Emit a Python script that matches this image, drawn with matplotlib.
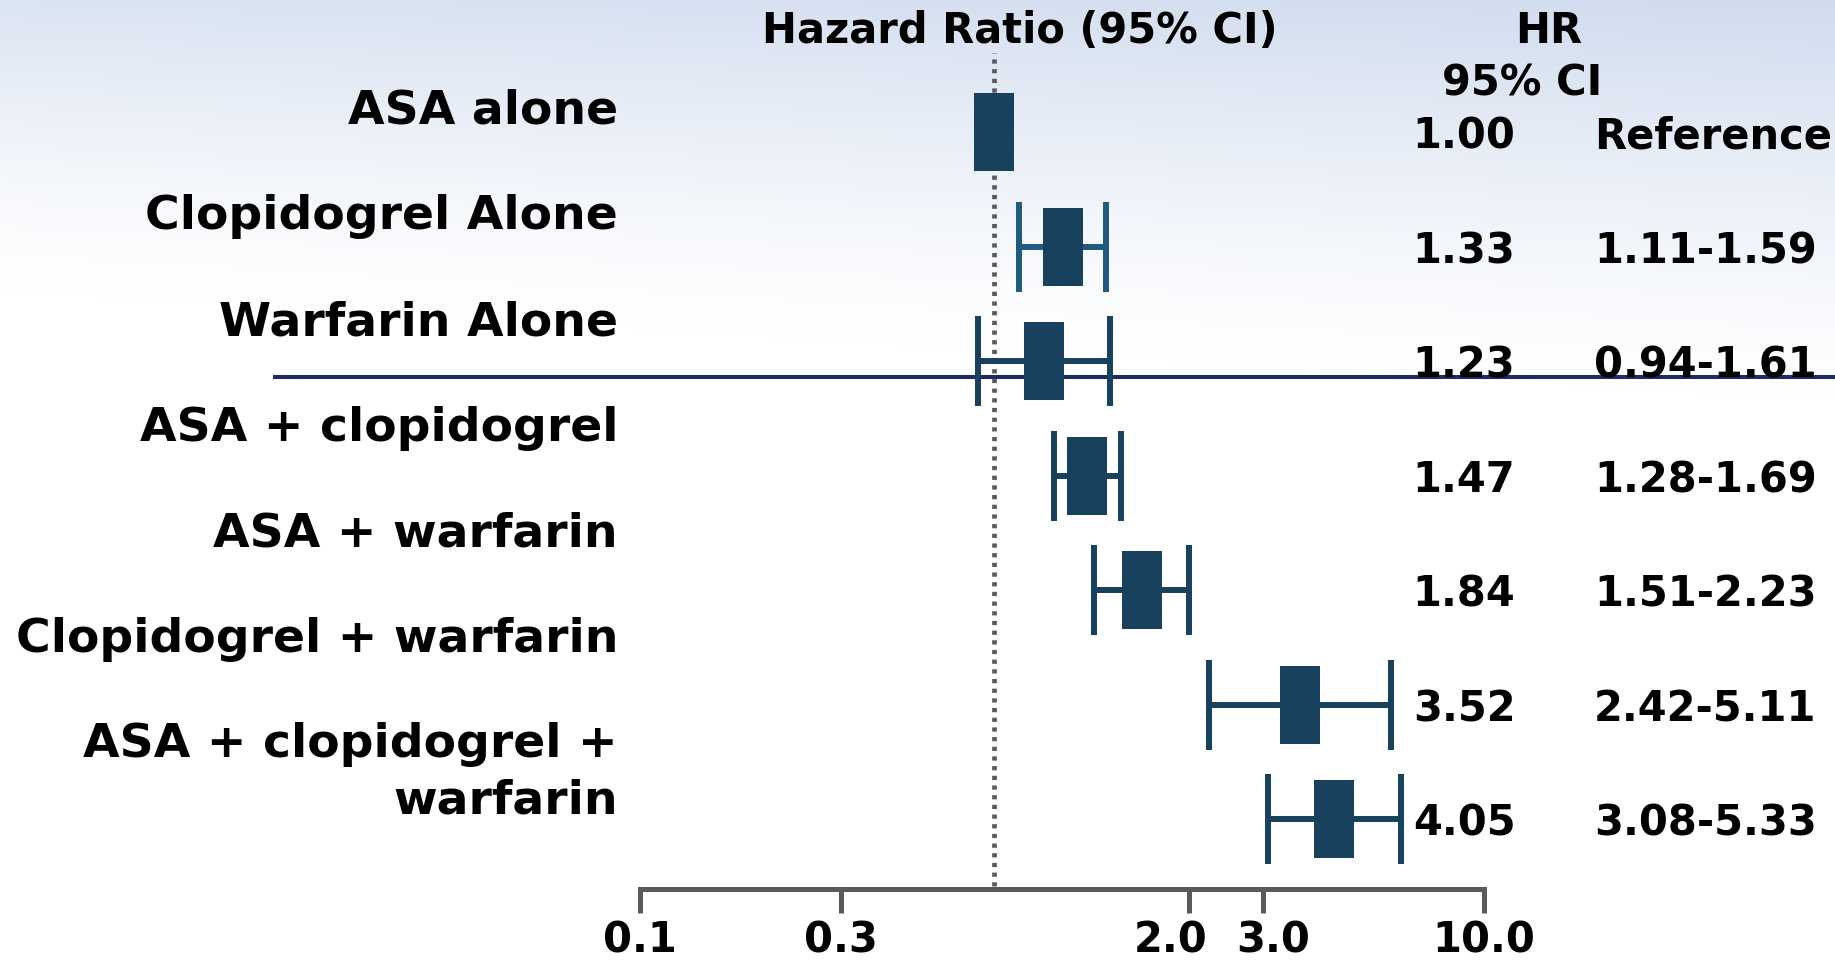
import numpy as np
import matplotlib.pyplot as plt
from matplotlib.path import Path
from matplotlib.ticker import NullLocator
from matplotlib.transforms import ScaledTranslation, blended_transform_factory

# bleeding risk by antithrombotic regimen: hazard ratios with 95% CI
regimens = ["ASA alone", "Clopidogrel Alone", "Warfarin Alone",
            "ASA + clopidogrel", "ASA + warfarin", "Clopidogrel + warfarin",
            "ASA + clopidogrel +\nwarfarin"]
hr = [1.00, 1.33, 1.23, 1.47, 1.84, 3.52, 4.05]
ci_low = [np.nan, 1.11, 0.94, 1.28, 1.51, 2.42, 3.08]
ci_high = [np.nan, 1.59, 1.61, 1.69, 2.23, 5.11, 5.33]
scale_ticks = [0.1, 0.3, 2.0, 3.0, 10.0]
scale_labels = ["0.1", "0.3", "2.0", "3.0", "10.0"]

W, H = 1835, 963
BOX = "#17415c"
ci_colors = [BOX, "#1f5a80", BOX, BOX, BOX, BOX, BOX]


def fx(px):
    return px / W


def fy(px):
    return 1 - px / H


fig = plt.figure(figsize=(W / 100, H / 100), dpi=100)

# pale blue wash fading to white above the divider
bg = fig.add_axes([0, 0, 1, 1], zorder=-1)
yy, xx = np.mgrid[0:H, 0:W]
fade_end = 290 + 110 * xx / W
t = np.clip(1 - yy / fade_end, 0, 1) ** 1.3
top_left = np.array([0.86, 0.895, 0.952])
top_right = np.array([0.815, 0.86, 0.935])
top = top_left + (top_right - top_left) * (xx / W)[..., None]
img = 1 - (1 - top) * t[..., None]
bg.imshow(img, aspect="auto", interpolation="bilinear")
bg.axis("off")

# forest plot axes: log hazard ratio across, one row per regimen down
ax = fig.add_axes([0, 0, 1, 1])
ax.set_facecolor("none")
ax.set_xscale("log")
x_one, px_dec = 993.5, 561
ax.set_xlim(10 ** (-x_one / px_dec), 10 ** ((W - x_one) / px_dec))
row_top, row_step = 132, 114.5
rows = np.arange(len(hr))
ax.set_ylim((H - row_top) / row_step, -row_top / row_step)
ax.axis("off")

ax.axvline(1.0, ymin=fy(886), ymax=fy(53), color="#5a5a5a", lw=3.4,
           linestyle=(0, (0.9, 1.15)), zorder=2)
ax.plot([fx(273), 1], [fy(377), fy(377)], transform=ax.transAxes,
        color="#1b2b68", lw=2.9, solid_capstyle="butt", zorder=1.5)

for i in rows:
    if np.isnan(ci_low[i]):
        continue
    ax.errorbar(hr[i], i, xerr=[[hr[i] - ci_low[i]], [ci_high[i] - hr[i]]],
                fmt="none", ecolor=ci_colors[i], elinewidth=4.3,
                capsize=32.4, capthick=4.3, zorder=3)

box = Path([(-0.5, -1), (0.5, -1), (0.5, 1), (-0.5, 1), (-0.5, -1)],
           closed=True)
ax.plot(hr, rows, linestyle="none", marker=box, markersize=56.2,
        markerfacecolor=BOX, markeredgewidth=0, zorder=4)

# row labels on the left; the wrapped one hangs from its first line
label_top, label_step = 106, 105.8
for i, name in enumerate(regimens):
    y_px = label_top + i * label_step
    if "\n" in name:
        ax.text(fx(618), fy(y_px - 18.7), name, transform=ax.transAxes,
                ha="right", va="top", fontsize=34, fontweight="bold",
                linespacing=1.34)
    else:
        ax.text(fx(618), fy(y_px), name, transform=ax.transAxes,
                ha="right", va="center_baseline", fontsize=34,
                fontweight="bold")

# value columns on the right
tr = blended_transform_factory(ax.transAxes, ax.transData)
for i in rows:
    ax.text(fx(1464), i, f"{hr[i]:.2f}", transform=tr, ha="center",
            va="center_baseline", fontsize=30, fontweight="bold")
    if np.isnan(ci_low[i]):
        ci_str = "Reference"
    else:
        ci_str = f"{ci_low[i]:.2f}-{ci_high[i]:.2f}"
    ax.text(fx(1594), i, ci_str, transform=tr, ha="left",
            va="center_baseline", fontsize=30, fontweight="bold")

ax.text(fx(1020), fy(43), "Hazard Ratio (95% CI)", transform=ax.transAxes,
        ha="center", va="baseline", fontsize=30, fontweight="bold")
ax.text(fx(1549), fy(43), "HR", transform=ax.transAxes,
        ha="center", va="baseline", fontsize=30, fontweight="bold")
ax.text(fx(1522), fy(95), "95% CI", transform=ax.transAxes,
        ha="center", va="baseline", fontsize=30, fontweight="bold")

# scale bar along the bottom
sx0, sx1, axis_y = 640, 1484, 889
sax = fig.add_axes([fx(sx0), fy(axis_y), (sx1 - sx0) / W, 0.001])
sax.set_facecolor("none")
sax.set_xscale("log")
sax.set_xlim(0.1, 10)
for side in ["top", "left", "right"]:
    sax.spines[side].set_visible(False)
sax.spines["bottom"].set_linewidth(3.6)
sax.spines["bottom"].set_color("#5a5a5a")
sax.spines["bottom"].set_capstyle("projecting")
sax.set_yticks([])
sax.set_xticks(scale_ticks, labels=scale_labels, fontsize=30,
               fontweight="bold")
sax.xaxis.set_minor_locator(NullLocator())
sax.tick_params(axis="x", direction="out", length=17.3, width=3.6,
                color="#5a5a5a", pad=5)

# ease the 2.0 and 3.0 labels apart so they do not run together
nudge_px = {"2.0": -18, "3.0": 10}
for lab in sax.get_xticklabels():
    dx = nudge_px.get(lab.get_text(), 0)
    if dx:
        lab.set_transform(lab.get_transform()
                          + ScaledTranslation(dx / 100, 0, fig.dpi_scale_trans))

fig.savefig("out.png", dpi=100)
